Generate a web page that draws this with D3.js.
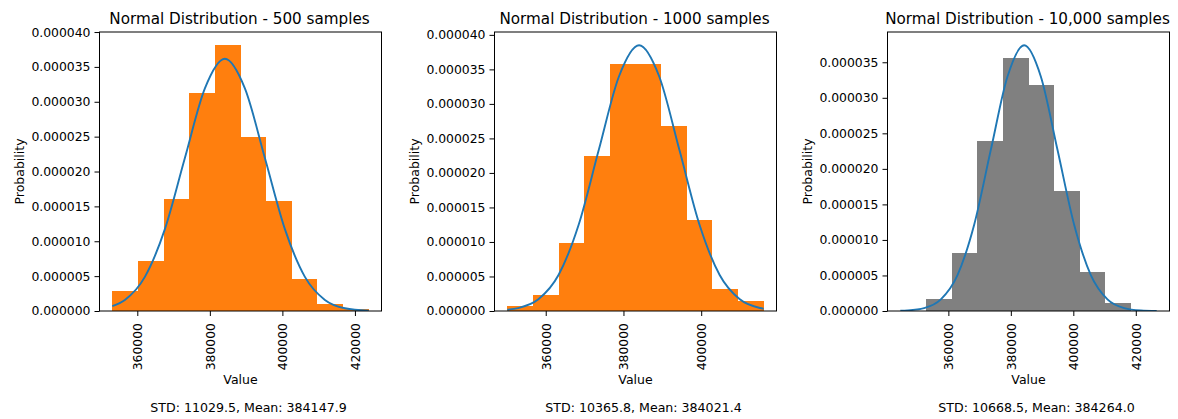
<!DOCTYPE html>
<html>
<head>
<meta charset="utf-8">
<script src="https://cdn.jsdelivr.net/npm/d3@7"></script>
<style>
  html, body { margin: 0; padding: 0; background: #fff; }
  svg { display: block; font-family: "DejaVu Sans", sans-serif; }
</style>
</head>
<body>
<svg id="chart" width="1178" height="419"></svg>
<script>
// ---------------- data ----------------
const titles = [
  "Normal Distribution - 500 samples",
  "Normal Distribution - 1000 samples",
  "Normal Distribution - 10,000 samples"
];
const stdValues  = [11029.5, 10365.8, 10668.5];
const meanValues = [384147.9, 384021.4, 384264.0];

// histogram ranges (10 equal bins between min and max)
const histMin = [353113, 350116, 344618];
const histMax = [423790, 416080, 426688];

// bin densities
const density500   = [2.87e-6, 7.17e-6, 1.60e-5, 3.13e-5, 3.81e-5, 2.50e-5, 1.58e-5, 4.55e-6, 1.06e-6, 3.4e-7];
const density1000  = [7.2e-7, 2.25e-6, 9.8e-6, 2.243e-5, 3.578e-5, 3.578e-5, 2.684e-5, 1.311e-5, 3.17e-6, 1.48e-6];
const density10000 = [2.4e-8, 1.68e-6, 8.17e-6, 2.39e-5, 3.565e-5, 3.183e-5, 1.69e-5, 5.48e-6, 1.12e-6, 1.2e-8];

// fitted curve points
const curveX500  = [353113, 356574, 362089, 367604, 373118, 378633, 384148, 389663, 395177, 400692, 406207, 411722, 417236, 423790];
const curveY500  = [6.90e-7, 1.589e-6, 4.895e-6, 1.1743e-5, 2.194e-5, 3.192e-5, 3.617e-5, 3.192e-5, 2.194e-5, 1.1743e-5, 4.895e-6, 1.589e-6, 4.018e-7, 5.67e-8];
const curveX1000 = [350116, 352924, 358107, 363290, 368473, 373656, 378839, 384021, 389204, 394387, 399570, 404753, 409936, 415119, 416080];
const curveY1000 = [1.829e-7, 4.275e-7, 1.691e-6, 5.209e-6, 1.2495e-5, 2.3343e-5, 3.3964e-5, 3.849e-5, 3.3964e-5, 2.3343e-5, 1.2495e-5, 5.209e-6, 1.691e-6, 4.275e-7, 3.223e-7];
const curveX10000 = [344618, 346924, 352259, 357593, 362927, 368261, 373596, 378930, 384264, 389598, 394933, 400267, 405601, 410935, 416270, 421604, 426688];
const curveY10000 = [3.75e-8, 8.18e-8, 4.154e-7, 1.643e-6, 5.061e-6, 1.214e-5, 2.268e-5, 3.300e-5, 3.739e-5, 3.300e-5, 2.268e-5, 1.214e-5, 5.061e-6, 1.643e-6, 4.154e-7, 8.18e-8, 1.38e-8];

const xTickValues = [360000, 380000, 400000, 420000];
const yTickValues = [0, 0.000005, 0.00001, 0.000015, 0.00002, 0.000025, 0.00003, 0.000035, 0.00004];
const barColors = ["#ff7f0e", "#ff7f0e", "#808080"];

const densities = [density500, density1000, density10000];
const curvesX = [curveX500, curveX1000, curveX10000];
const curvesY = [curveY500, curveY1000, curveY10000];

// ---------------- layout ----------------
const svg = d3.select("#chart");
const axLeft = [99.5, 494.5, 887.5];
const axW = 282, axTop = 32, axBottom = 311;
const fmtY = d3.format(".6f");
const fmtX = d3.format("d");
const fmtS = d3.format(".1f");

for (let p = 0; p < 3; p++) {
  const dens = densities[p];
  const nb = dens.length;
  const lo = histMin[p], hi = histMax[p];
  const bw = (hi - lo) / nb;
  const bins = dens.map((d, i) => ({ x0: lo + i * bw, x1: lo + (i + 1) * bw, y: d }));
  const pts = curvesX[p].map((x, i) => [x, curvesY[p][i]]);

  const xMin = Math.min(lo, d3.min(curvesX[p]));
  const xMax = Math.max(hi, d3.max(curvesX[p]));
  const pad = (xMax - xMin) * 0.05;
  const yMax = 1.05 * Math.max(d3.max(dens), d3.max(curvesY[p]));

  const x = d3.scaleLinear().domain([xMin - pad, xMax + pad]).range([axLeft[p], axLeft[p] + axW]);
  const y = d3.scaleLinear().domain([0, yMax]).range([axBottom, axTop]);

  const g = svg.append("g");
  const clipId = "clip" + p;
  g.append("clipPath").attr("id", clipId).append("rect")
    .attr("x", axLeft[p]).attr("y", axTop).attr("width", axW).attr("height", axBottom - axTop);

  const plot = g.append("g").attr("clip-path", `url(#${clipId})`);

  plot.selectAll("rect.bar").data(bins).enter().append("rect")
    .attr("class", "bar")
    .attr("x", d => Math.round(x(d.x0)))
    .attr("width", d => Math.round(x(d.x1)) - Math.round(x(d.x0)))
    .attr("y", d => y(d.y))
    .attr("height", d => axBottom - y(d.y))
    .attr("fill", barColors[p])
    .attr("shape-rendering", "crispEdges");

  const line = d3.line().x(d => x(d[0])).y(d => y(d[1])).curve(d3.curveMonotoneX);
  plot.append("path").datum(pts)
    .attr("d", line)
    .attr("fill", "none")
    .attr("stroke", "#1f77b4")
    .attr("stroke-width", 1.9);

  // axes
  const yTicks = yTickValues.filter(v => v <= yMax * 1.0001);
  const yAxis = d3.axisLeft(y).tickValues(yTicks).tickFormat(fmtY).tickSize(5).tickPadding(4);
  const gy = g.append("g").attr("transform", `translate(${axLeft[p]},0)`).call(yAxis);
  gy.select(".domain").remove();
  gy.selectAll(".tick line").attr("stroke", "#000").attr("stroke-width", 1);
  gy.selectAll(".tick text").attr("fill", "#000").style("font-size", "12.4px")
    .style("font-family", "'DejaVu Sans', sans-serif");

  const xt = xTickValues.filter(v => x(v) >= axLeft[p] && x(v) <= axLeft[p] + axW);
  const xAxis = d3.axisBottom(x).tickValues(xt).tickFormat(fmtX).tickSize(5).tickPadding(4);
  const gx = g.append("g").attr("transform", `translate(0,${axBottom})`).call(xAxis);
  gx.select(".domain").remove();
  gx.selectAll(".tick line").attr("stroke", "#000").attr("stroke-width", 1);
  gx.selectAll(".tick text")
    .attr("fill", "#000").style("font-size", "12.4px")
    .style("font-family", "'DejaVu Sans', sans-serif")
    .attr("text-anchor", "end")
    .attr("transform", "translate(0,12) rotate(-90)")
    .attr("x", 0).attr("y", 0).attr("dy", "0.35em");

  // frame
  g.append("rect")
    .attr("x", axLeft[p]).attr("y", axTop)
    .attr("width", axW).attr("height", axBottom - axTop)
    .attr("fill", "none").attr("stroke", "#000").attr("stroke-width", 1);

  const cx = axLeft[p] + axW / 2;
  // title
  g.append("text").attr("x", cx - 1).attr("y", 24)
    .attr("text-anchor", "middle").style("font-size", "15.2px").attr("fill", "#000")
    .text(titles[p]);
  // y label
  g.append("text")
    .attr("transform", `translate(${axLeft[p] - 80},${(axTop + axBottom) / 2}) rotate(-90)`)
    .attr("text-anchor", "middle").attr("dy", "0.35em")
    .style("font-size", "12.5px").attr("fill", "#000")
    .text("Probability");
  // x label
  g.append("text").attr("x", cx).attr("y", 384)
    .attr("text-anchor", "middle").style("font-size", "12.5px").attr("fill", "#000")
    .text("Value");
  // stats text
  g.append("text").attr("x", cx + 8).attr("y", 412)
    .attr("text-anchor", "middle").style("font-size", "12.6px").attr("fill", "#000")
    .text(`STD: ${fmtS(stdValues[p])}, Mean: ${fmtS(meanValues[p])}`);
}
</script>
</body>
</html>
